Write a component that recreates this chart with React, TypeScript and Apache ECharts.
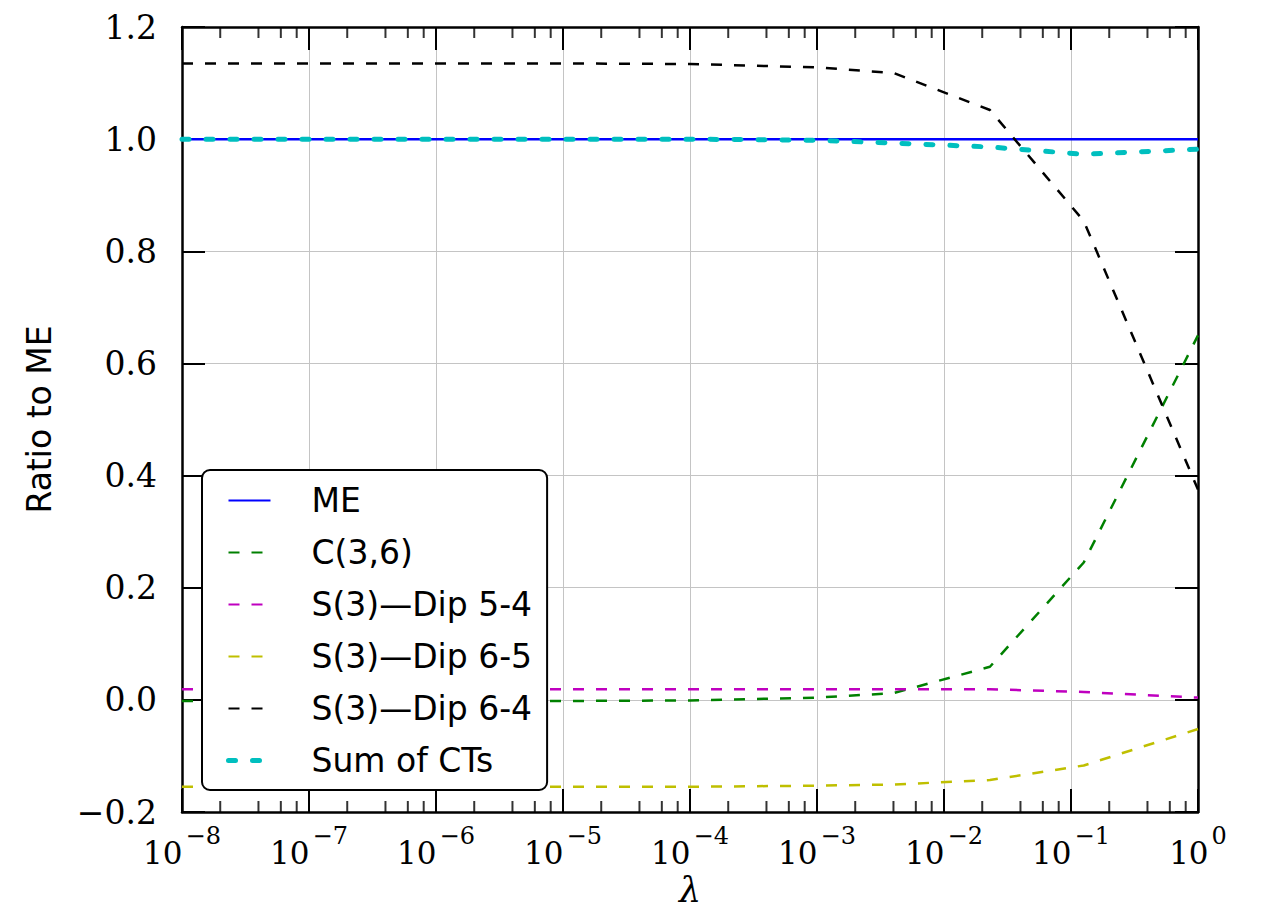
import React, { useEffect, useRef } from "react";
import * as echarts from "echarts";

// ---- data ----
const lambdas = [1e-8, 1e-7, 1e-6, 1e-5, 1e-4, 1e-3, 4e-3, 2.3e-2, 1.26e-1, 1];
const meVals = [1, 1, 1, 1, 1, 1, 1, 1, 1, 1];
const c36Vals = [-0.002, -0.002, -0.002, -0.002, -0.001, 0.004, 0.012, 0.059, 0.245, 0.65];
const dip54Vals = [0.019, 0.019, 0.019, 0.019, 0.019, 0.019, 0.019, 0.019, 0.014, 0.004];
const dip65Vals = [-0.155, -0.155, -0.155, -0.155, -0.155, -0.153, -0.151, -0.143, -0.117, -0.052];
const dip64Vals = [1.135, 1.135, 1.135, 1.135, 1.134, 1.128, 1.118, 1.052, 0.854, 0.375];
const sumVals = [1.0, 1.0, 1.0, 1.0, 1.0, 0.998, 0.993, 0.986, 0.973, 0.982];

const seriesNames = ["ME", "C(3,6)", "S(3)\u2014Dip 5-4", "S(3)\u2014Dip 6-5", "S(3)\u2014Dip 6-4", "Sum of CTs"];
const minorMultipliers = [2, 4, 6, 8];
const decades = [-8, -7, -6, -5, -4, -3, -2, -1];
const yMin = -0.2;
const yMax = 1.2;

const SERIF = "DejaVu Serif";
const SANS = "DejaVu Sans";

function pairs(vals: number[]) {
  return lambdas.map((l, i) => [l, vals[i]]);
}

export default function App() {
  const ref = useRef<HTMLDivElement>(null);
  useEffect(() => {
    if (!ref.current) return;
    const chart = echarts.init(ref.current, null, { renderer: "svg" });

    const minorX: number[] = [];
    decades.forEach((d) => minorMultipliers.forEach((m) => minorX.push(m * Math.pow(10, d))));

    const dash = [11, 12];
    const dots = [7, 17];
    const lineSeries = (name: string, vals: number[], color: string, width: number, type: any, extra: any = {}) => ({
      name,
      type: "line",
      data: pairs(vals),
      symbol: "none",
      showSymbol: false,
      xAxisIndex: 0,
      yAxisIndex: 0,
      lineStyle: { color, width, type, ...extra },
      itemStyle: { color },
      emphasis: { disabled: true },
      z: 3,
    });

    const tickSeries = (name: string, y: number, offset: number) => ({
      name,
      type: "scatter",
      xAxisIndex: 0,
      yAxisIndex: 0,
      data: minorX.map((x) => [x, y]),
      symbol: "rect",
      symbolSize: [2, 11],
      symbolOffset: [0, offset],
      itemStyle: { color: "#000000" },
      silent: true,
      clip: false,
      z: 6,
      emphasis: { disabled: true },
    });

    const legendData = seriesNames.map((n, i) =>
      i === 5
        ? { name: n, lineStyle: { color: "#00bfbf", width: 5, type: dots, cap: "round" } }
        : { name: n }
    );

    const option: any = {
      animation: false,
      backgroundColor: "#ffffff",
      grid: { left: 182, right: 65, top: 27, bottom: 97, containLabel: false, outerBoundsMode: "none" },
      legend: {
        data: legendData,
        orient: "vertical",
        left: 202,
        top: 470,
        itemWidth: 42,
        itemHeight: 14,
        itemGap: 19,
        padding: [14, 15, 13, 24],
        backgroundColor: "#ffffff",
        borderColor: "#000000",
        borderWidth: 2,
        borderRadius: 8,
        z: 10,
        selectedMode: false,
        itemStyle: { opacity: 0 },
        formatter: (name: string) => `{p| }{t|${name}}`,
        textStyle: {
          rich: {
            p: { width: 36 },
            t: { fontFamily: SANS, fontSize: 33, color: "#000" },
          },
        },
      },
      xAxis: [
        {
          type: "log",
          logBase: 10,
          min: 1e-8,
          max: 1,
          position: "bottom",
          name: "\u03bb",
          nameLocation: "middle",
          nameGap: 52,
          nameTextStyle: { fontFamily: SERIF, fontStyle: "italic", fontSize: 35, color: "#000", verticalAlign: "top" },
          axisLine: { show: true, onZero: false, lineStyle: { color: "#000", width: 2.5 } },
          axisTick: { show: true, inside: true, length: 23, lineStyle: { color: "#000", width: 2 } },
          minorTick: { show: false },
          axisLabel: {
            interval: 0,
            margin: 12,
            showMinLabel: true,
            showMaxLabel: true,
            formatter: (v: number) => {
              const e = Math.round(Math.log10(v));
              const s = e < 0 ? "\u2212" + Math.abs(e) : String(e);
              return `{b|10}{s|${s}}`;
            },
            rich: {
              b: { fontFamily: SERIF, fontSize: 31, color: "#000", lineHeight: 44, verticalAlign: "bottom" },
              s: { fontFamily: SERIF, fontSize: 24, color: "#000", lineHeight: 26, verticalAlign: "top", padding: [0, 0, 0, 3] },
            },
          },
          splitLine: { show: true, lineStyle: { color: "#c4c4c4", width: 1 } },
        },
        {
          type: "log",
          logBase: 10,
          min: 1e-8,
          max: 1,
          position: "top",
          axisLine: { show: true, onZero: false, lineStyle: { color: "#000", width: 2.5 } },
          axisTick: { show: true, inside: true, length: 23, lineStyle: { color: "#000", width: 2 } },
          axisLabel: { show: false },
          splitLine: { show: false },
        },
      ],
      yAxis: [
        {
          type: "value",
          min: yMin,
          max: yMax,
          interval: 0.2,
          position: "left",
          name: "Ratio to ME",
          nameLocation: "middle",
          nameGap: 126,
          nameTextStyle: { fontFamily: SANS, fontSize: 33, color: "#000" },
          axisLine: { show: true, onZero: false, lineStyle: { color: "#000", width: 2.5 } },
          axisTick: { show: true, inside: true, length: 23, lineStyle: { color: "#000", width: 2 } },
          axisLabel: {
            margin: 25,
            showMinLabel: true,
            showMaxLabel: true,
            fontFamily: SERIF,
            fontSize: 33,
            color: "#000",
            formatter: (v: number) => {
              const t = (Math.round(v * 10) / 10).toFixed(1);
              return t === "-0.0" ? "0.0" : t.replace("-", "\u2212");
            },
          },
          splitLine: { show: true, lineStyle: { color: "#c4c4c4", width: 1 } },
        },
        {
          type: "value",
          min: yMin,
          max: yMax,
          interval: 0.2,
          position: "right",
          axisLine: { show: true, onZero: false, lineStyle: { color: "#000", width: 2.5 } },
          axisTick: { show: true, inside: true, length: 23, lineStyle: { color: "#000", width: 2 } },
          axisLabel: { show: false },
          splitLine: { show: false },
        },
      ],
      series: [
        lineSeries(seriesNames[0], meVals, "#0000ff", 2.5, "solid"),
        lineSeries(seriesNames[1], c36Vals, "#008000", 2.5, dash),
        lineSeries(seriesNames[2], dip54Vals, "#bf00bf", 2.5, dash),
        lineSeries(seriesNames[3], dip65Vals, "#bfbf00", 2.5, dash),
        lineSeries(seriesNames[4], dip64Vals, "#000000", 2.5, dash),
        lineSeries(seriesNames[5], sumVals, "#00bfbf", 5, dots, { cap: "round" }),
        tickSeries("minorBottom", yMin, -5.5),
        tickSeries("minorTop", yMax, 5.5),
      ],
    };
    chart.setOption(option);
    return () => chart.dispose();
  }, []);
  return <div ref={ref} style={{ position: "absolute", left: 0, top: 0, width: 1263, height: 909 }} />;
}
